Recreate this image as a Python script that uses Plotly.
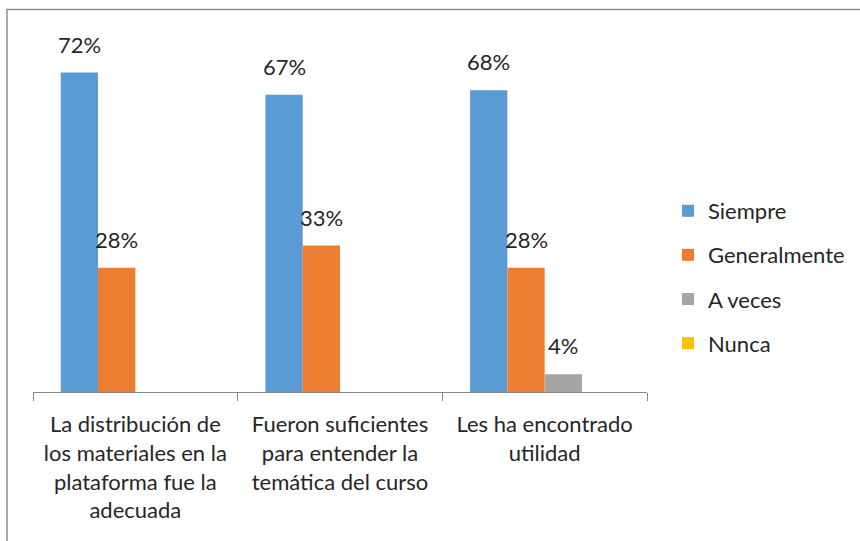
import plotly.graph_objects as go

categories = [
    "La distribución de<br>los materiales en la<br>plataforma fue la<br>adecuada",
    "Fueron suficientes<br>para entender la<br>temática del curso",
    "Les ha encontrado<br>utilidad",
]
series_names = ["Siempre", "Generalmente", "A veces", "Nunca"]
siempre = [72, 67, 68]
generalmente = [28, 33, 28]
a_veces = [0, 0, 4]
nunca = [0, 0, 0]
series_values = [siempre, generalmente, a_veces, nunca]
colors = ["#5B9BD5", "#ED7D31", "#A5A5A5", "#FFC000"]

FONT = "Lato"
TXT = "#262626"
W, H = 860, 541
ML, MR, MT, MB = 33, 213, 37, 149
BARGAP = 0.271

fig = go.Figure()
for i, (name, vals, col) in enumerate(zip(series_names, series_values, colors)):
    fig.add_trace(go.Bar(
        name=name, x=categories, y=vals, marker=dict(color=col, line=dict(width=0)),
        legendgroup=name, hoverinfo="skip",
    ))

# data labels (skip zero values), horizontally offset to their bar within the group
plot_w = W - ML - MR
n_series = len(series_names)
bar_px = plot_w / len(categories) * (1 - BARGAP) / n_series
annotations = []
for i, vals in enumerate(series_values):
    for c, v in zip(categories, vals):
        if v > 0:
            annotations.append(dict(
                x=c, y=v, xref="x", yref="y", text=f"{v}%", showarrow=False,
                xshift=(i - (n_series - 1) / 2) * bar_px, yanchor="bottom", yshift=13,
                font=dict(family=FONT, size=22, color=TXT),
            ))

fig.update_layout(
    width=W, height=H,
    margin=dict(l=ML, r=MR, t=MT, b=MB, pad=0, autoexpand=False),
    barmode="group", bargap=BARGAP, bargroupgap=0,
    plot_bgcolor="white", paper_bgcolor="white",
    font=dict(family=FONT, size=22, color=TXT),
    showlegend=True,
    legend=dict(
        xref="container", yref="container",
        x=668 / W, xanchor="left", y=0.488, yanchor="middle",
        font=dict(family=FONT, size=22, color=TXT),
        traceorder="grouped", tracegroupgap=12.5,
        bgcolor="rgba(0,0,0,0)",
    ),
    annotations=annotations,
    shapes=[dict(
        type="rect", xref="paper", yref="paper",
        x0=(7 - ML) / plot_w, x1=1.6,
        y0=-0.6, y1=1 + (MT - 9.5) / (H - MT - MB),
        line=dict(color="#8c8c8c", width=1.5), fillcolor="rgba(0,0,0,0)", layer="below",
    )],
)
fig.update_xaxes(
    showline=True, linecolor="#868686", linewidth=1,
    ticks="outside", tickson="boundaries", ticklen=8, tickcolor="#868686",
    ticklabelstandoff=13,
    tickfont=dict(family=FONT, size=22, color=TXT),
    showgrid=False, zeroline=False, fixedrange=True, automargin=False,
)
fig.update_yaxes(
    range=[0, 80], visible=False, showgrid=False, zeroline=False, fixedrange=True,
)

fig.write_html(
    "out.html",
    config={"displayModeBar": False},
    post_script="document.body.style.margin='0';",
)
